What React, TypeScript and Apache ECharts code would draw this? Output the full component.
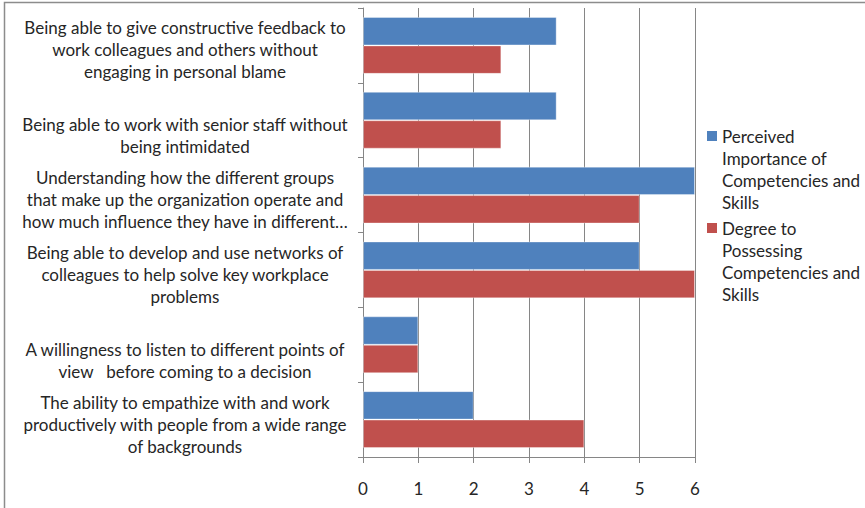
import React, { useEffect, useRef } from "react";
import * as echarts from "echarts";

const categories: string[] = [
  "Being able to give constructive feedback to\nwork colleagues and others without\nengaging in personal blame",
  "Being able to work with senior staff without\nbeing intimidated",
  "Understanding how the different groups\nthat make up the organization operate and\nhow much influence they have in different…",
  "Being able to develop and use networks of\ncolleagues to help solve key workplace\nproblems",
  "A willingness to listen to different points of\nview   before coming to a decision",
  "The ability to empathize with and work\nproductively with people from a wide range\nof backgrounds",
];

const seriesNames: string[] = [
  "Perceived Importance of Competencies and Skills",
  "Degree to Possessing Competencies and Skills",
];
const legendLines: string[] = [
  "Perceived\nImportance of\nCompetencies and\nSkills",
  "Degree to\nPossessing\nCompetencies and\nSkills",
];

const perceivedImportance: number[] = [3.5, 3.5, 6, 5, 1, 2];
const degreePossessing: number[] = [2.5, 2.5, 5, 6, 1, 4];

const xTicks = { min: 0, max: 6, interval: 1 };

const BLUE = "#4F81BD";
const RED = "#C0504D";
const FONT = "Lato, 'Open Sans', sans-serif";
const TEXT = "#262626";
const AXIS = "#868686";

export default function App() {
  const ref = useRef<HTMLDivElement>(null);
  useEffect(() => {
    if (!ref.current) return;
    const chart = echarts.init(ref.current, undefined, { renderer: "svg" });
    const option: any = {
      animation: false,
      backgroundColor: "#ffffff",
      grid: { left: 363, right: 170, top: 8, bottom: 51 },
      xAxis: {
        type: "value",
        min: xTicks.min,
        max: xTicks.max,
        interval: xTicks.interval,
        axisLine: { show: true, lineStyle: { color: AXIS, width: 1 } },
        axisTick: { show: true, length: 6, lineStyle: { color: AXIS } },
        splitLine: { show: true, lineStyle: { color: AXIS, width: 1 } },
        axisLabel: { color: TEXT, fontSize: 17, fontFamily: FONT, margin: 23 },
      },
      yAxis: {
        type: "category",
        inverse: true,
        data: categories,
        axisLine: { show: true, lineStyle: { color: AXIS, width: 1 } },
        axisTick: { show: true, length: 5, inside: false, lineStyle: { color: AXIS } },
        splitLine: { show: false },
        axisLabel: {
          interval: 0,
          hideOverlap: false,
          showMinLabel: true,
          showMaxLabel: true,
          color: TEXT,
          fontSize: 17,
          fontFamily: FONT,
          lineHeight: 22,
          align: "center",
          margin: 178,
          formatter: (v: string) => {
            const lines = v.split("\n");
            while (lines.length < 3) lines.unshift(" ");
            return "{s| }\n" + lines.map((l) => `{t|${l}}`).join("\n");
          },
          rich: {
            s: { fontSize: 1, lineHeight: 9, fontFamily: FONT },
            t: { fontSize: 17, lineHeight: 22, fontFamily: FONT, color: TEXT, align: "center" },
          },
        },
      },
      series: [
        {
          name: seriesNames[0],
          type: "bar",
          data: perceivedImportance,
          barGap: "0%",
          barCategoryGap: "24%",
          itemStyle: { color: BLUE, borderColor: "rgba(255,255,255,0.35)", borderWidth: 1 },
        },
        {
          name: seriesNames[1],
          type: "bar",
          data: degreePossessing,
          barGap: "0%",
          barCategoryGap: "24%",
          itemStyle: { color: RED, borderColor: "rgba(255,255,255,0.35)", borderWidth: 1 },
        },
      ],
      graphic: [
        {
          type: "rect",
          silent: true,
          shape: { x: 4.5, y: 2.5, width: 1000, height: 1000 },
          style: { fill: "none", stroke: "#8c8c8c", lineWidth: 1.5 },
        },
        {
          type: "rect",
          shape: { x: 707, y: 131, width: 10, height: 10 },
          style: { fill: BLUE },
        },
        {
          type: "text",
          x: 722,
          y: 125,
          style: {
            text: legendLines[0],
            fill: TEXT,
            font: `17px ${FONT}`,
            lineHeight: 22,
            verticalAlign: "top",
          },
        },
        {
          type: "rect",
          shape: { x: 707, y: 223, width: 10, height: 10 },
          style: { fill: RED },
        },
        {
          type: "text",
          x: 722,
          y: 217,
          style: {
            text: legendLines[1],
            fill: TEXT,
            font: `17px ${FONT}`,
            lineHeight: 22,
            verticalAlign: "top",
          },
        },
      ],
    };
    chart.setOption(option);
    return () => chart.dispose();
  }, []);
  return (
    <div
      ref={ref}
      style={{ position: "fixed", left: 0, top: 0, width: 865, height: 508, background: "#fff" }}
    />
  );
}
